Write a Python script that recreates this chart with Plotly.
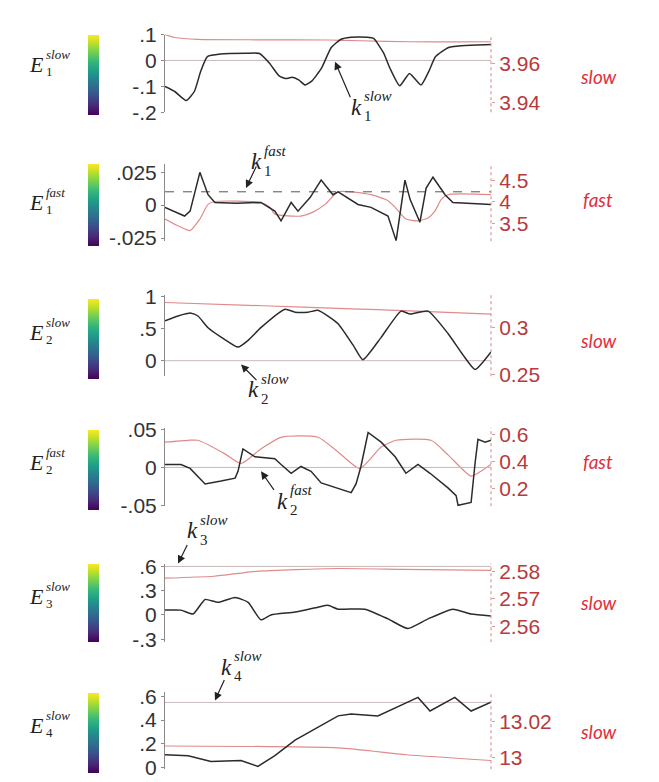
import plotly.graph_objects as go

W, H = 659, 782

# ---------------- data (time axis 0..100) ----------------
# Panel 1: E1 slow
p1_t = [0, 3, 6.5, 9, 11, 13, 17, 25, 29, 32, 35, 37, 39, 41, 43, 45, 48, 51, 54, 57, 62, 64, 67, 69, 72, 75, 78.5, 81, 83, 87, 92, 100]
p1_e = [-0.10, -0.12, -0.155, -0.12, -0.04, 0.015, 0.025, 0.028, 0.027, -0.01, -0.06, -0.07, -0.065, -0.075, -0.095, -0.08, -0.03, 0.05, 0.082, 0.09, 0.09, 0.085, 0.03, -0.03, -0.098, -0.05, -0.095, -0.04, 0.015, 0.05, 0.058, 0.062]
p1_rt = [0, 3, 10, 30, 50, 60, 75, 90, 100]
p1_r = [3.975, 3.9735, 3.9725, 3.9723, 3.9722, 3.9718, 3.9713, 3.9712, 3.9713]

# Panel 2: E1 fast
p2_t = [0, 6, 7.7, 10.7, 13.2, 15.3, 22, 29.4, 33.7, 35.6, 38.7, 40.8, 44.5, 47.9, 51.5, 53.1, 59.2, 63.2, 68.4, 70.9, 73.6, 75.2, 78.2, 80.1, 82.2, 85.9, 88.3, 100]
p2_e = [-0.0017, -0.0083, -0.0046, 0.0249, 0.0079, 0.002, 0.0015, 0.002, -0.0046, -0.012, 0.002, -0.0046, 0.0057, 0.019, 0.0079, 0.01, 0.0005, -0.0017, -0.0083, -0.027, 0.019, 0.0042, -0.013, 0.013, 0.0212, 0.0079, 0.002, 0.0005]
p2_rt = [0, 4, 7.7, 10.7, 13.2, 15.3, 29.4, 32.2, 33.7, 41.7, 45.4, 49.1, 53.1, 63.2, 68.4, 70.6, 73.9, 77.6, 80.7, 82.8, 84.7, 86.8, 100]
p2_r = [3.611, 3.456, 3.345, 3.611, 3.945, 4.011, 3.989, 3.878, 3.722, 3.678, 3.767, 3.945, 4.233, 4.167, 4.03, 3.878, 3.611, 3.567, 3.633, 3.789, 4.056, 4.167, 4.167]

# Panel 3: E2 slow
p3_t = [0, 4, 8, 10.1, 13.2, 17.8, 22.4, 25.5, 29.4, 36.8, 39.9, 43.9, 46.9, 50, 53.1, 57.7, 60.7, 66.3, 72.4, 75.2, 80.7, 86.8, 91.4, 95.1, 100]
p3_e = [0.621, 0.697, 0.742, 0.697, 0.515, 0.349, 0.212, 0.318, 0.515, 0.803, 0.757, 0.757, 0.788, 0.697, 0.576, 0.243, 0.015, 0.364, 0.773, 0.727, 0.773, 0.424, 0.091, -0.136, 0.137]
p3_rt = [0, 30, 55, 75, 100]
p3_r = [0.327, 0.3235, 0.3205, 0.318, 0.3146]

# Panel 4: E2 fast
p4_t = [0, 4.9, 7.7, 12.3, 17.2, 21.5, 22.4, 23.9, 27.6, 33.7, 35.6, 38.7, 41.7, 44.8, 47.9, 53.1, 57.1, 58.6, 60.1, 62.3, 66.3, 70.6, 73.9, 77.6, 81.3, 86.8, 89.3, 89.9, 93.9, 95.1, 96, 98.2, 100]
p4_e = [0.0039, 0.0039, -0.0013, -0.0218, -0.018, -0.0141, -0.0051, 0.0244, 0.0141, 0.0116, 0.0039, -0.0077, 0.0013, -0.0051, -0.0205, -0.0282, -0.0333, -0.0218, 0.0013, 0.0462, 0.0334, 0.0141, -0.0077, 0.0039, -0.0077, -0.027, -0.0372, -0.05, -0.0462, 0.0052, 0.0372, 0.0334, 0.0359]
p4_rt = [0, 7.1, 10.1, 18.4, 23.3, 29.4, 35.6, 46.9, 53.1, 59.8, 66.3, 70.9, 81.6, 86.8, 93.9, 96.9, 100]
p4_r = [0.543, 0.557, 0.557, 0.457, 0.386, 0.493, 0.579, 0.579, 0.471, 0.35, 0.507, 0.557, 0.557, 0.45, 0.293, 0.329, 0.379]

# Panel 5: E3 slow
p5_t = [0, 4.9, 8.6, 12.3, 16.3, 21.5, 25.5, 29.4, 32.5, 39.9, 46.9, 50, 53.1, 61.3, 68.4, 74.5, 80.7, 88.3, 93.9, 100]
p5_e = [0.06, 0.06, 0.012, 0.192, 0.156, 0.216, 0.156, -0.06, 0.0, 0.036, 0.096, 0.12, 0.072, 0.072, -0.048, -0.168, -0.048, 0.072, 0.012, -0.012]
p5_rt = [0, 15, 28, 53, 73, 100]
p5_r = [2.5775, 2.5782, 2.58, 2.581, 2.5807, 2.5803]

# Panel 6: E4 slow
p6_t = [0, 7.1, 14.1, 23.3, 28.5, 33.7, 39.9, 53.1, 57.1, 65.3, 77.6, 81.3, 88.9, 93.9, 100]
p6_e = [0.107, 0.099, 0.05, 0.058, 0.009, 0.099, 0.23, 0.436, 0.452, 0.436, 0.592, 0.477, 0.592, 0.477, 0.551]
p6_rt = [0, 53, 74, 100]
p6_r = [13.0065, 13.0054, 13.0016, 12.9984]

# reference levels k (left axis units)
k_vals = [0, 0.0101, 0, 0, 0.6, 0.55]
t_span = [0, 100]

# tick labels
left_ticks = [[0.1, 0, -0.1, -0.2], [0.025, 0, -0.025], [1, 0.5, 0], [0.05, 0, -0.05], [0.6, 0.3, 0, -0.3], [0.6, 0.4, 0.2, 0]]
left_text = [[".1", "0", "-.1", "-.2"], [".025", "0", "-.025"], ["1", ".5", "0"], [".05", "0", "-.05"], [".6", ".3", "0", "-.3"], [".6", ".4", ".2", "0"]]
right_ticks = [[3.96, 3.94], [4.5, 4, 3.5], [0.3, 0.25], [0.6, 0.4, 0.2], [2.58, 2.57, 2.56], [13.02, 13]]
right_text = [["3.96", "3.94"], ["4.5", "4", "3.5"], ["0.3", "0.25"], ["0.6", "0.4", "0.2"], ["2.58", "2.57", "2.56"], ["13.02", "13"]]
subs = ["1", "1", "2", "2", "3", "4"]
modes = ["slow", "fast", "slow", "fast", "slow", "slow"]

e_series = [(p1_t, p1_e), (p2_t, p2_e), (p3_t, p3_e), (p4_t, p4_e), (p5_t, p5_e), (p6_t, p6_e)]
r_series = [(p1_rt, p1_r), (p2_rt, p2_r), (p3_rt, p3_r), (p4_rt, p4_r), (p5_rt, p5_r), (p6_rt, p6_r)]

# ---------------- layout geometry (pixels) ----------------
X0, X1 = 157, 483
tops = [15, 148, 283, 420, 560, 692]
bots = [95, 228, 367, 501, 641, 772]
left_ranges = [[-0.2, 0.1], [-0.0275, 0.0315], [-0.242, 1.03], [-0.0513, 0.0526], [-0.336, 0.636], [-0.016, 0.641]]
right_ranges = [[3.935, 3.975], [3.1, 4.878], [0.2479, 0.3354], [0.0714, 0.65], [2.5544, 2.5828], [12.9935, 13.0368]]
cb_tops = [15, 148, 287, 422, 560, 693]
cb_bots = [95, 230, 367, 502, 638, 773]
e_label_y = [46, 188, 322, 456, 594, 727]
mode_label_y = [58, 185, 330, 455, 600, 733]
k_label_pos = [(350, 90), (250, 146), (247, 381), (276, 496), (186, 526), (220, 667)]
arrows = [((327, 43), (343, 80)), ((238, 173), (249, 150)), ((233, 355), (250, 372)),
          ((253, 465), (267, 485)), ((170, 560), (180, 540)), ((207, 701), (217, 679))]
smooth = [True, False, True, False, True, False]

BLACK = "#2b2b2b"
RED_LINE = "#e08a8a"
RED_TICK = "#b83a3a"
RED_TEXT = "#e0303c"
GRID_K = "#c9b9b9"
SANS = "Liberation Sans"
SERIF = "Liberation Serif"


def px(x):
    return x / W


def py(y):
    return 1 - y / H


fig = go.Figure()
layout = dict(width=W, height=H, autosize=False, margin=dict(l=0, r=0, t=0, b=0),
              paper_bgcolor="white", plot_bgcolor="rgba(0,0,0,0)", showlegend=False)
annotations = []
shapes = []

for i in range(6):
    xa = "x" if i == 0 else f"x{i + 1}"
    yr_idx = 2 * i + 1
    yl_idx = 2 * i + 2
    yr = "y" if yr_idx == 1 else f"y{yr_idx}"
    yl = f"y{yl_idx}"
    xkey = "xaxis" if i == 0 else f"xaxis{i + 1}"
    yrkey = "yaxis" if yr_idx == 1 else f"yaxis{yr_idx}"
    ylkey = f"yaxis{yl_idx}"
    dom = [py(bots[i]), py(tops[i])]

    layout[xkey] = dict(domain=[px(X0), px(X1)], range=[0, 100], visible=False, anchor=yr, fixedrange=True)
    layout[yrkey] = dict(domain=dom, range=right_ranges[i], side="right", anchor=xa,
                         tickvals=right_ticks[i], ticktext=right_text[i],
                         tickfont=dict(family=SANS, size=21, color=RED_TICK),
                         showline=False,
                         ticks="outside", ticklen=3, tickcolor="#d99a9a",
                         showgrid=False, zeroline=False)
    layout[ylkey] = dict(range=left_ranges[i], side="left", anchor=xa, overlaying=yr,
                         tickvals=left_ticks[i], ticktext=left_text[i],
                         tickfont=dict(family=SANS, size=21, color="#333333"),
                         showline=True, linecolor="#8a8a8a", linewidth=1,
                         ticks="outside", ticklen=3, tickcolor="#8a8a8a",
                         showgrid=False, zeroline=False)
    # dotted right axis line
    shapes.append(dict(type="line", xref=f"{xa} domain", yref=f"{yr} domain",
                       x0=1, x1=1, y0=0, y1=1, line=dict(color="#d99a9a", width=1.2, dash="dot")))

    # red (right axis) line
    rt, rv = r_series[i]
    fig.add_trace(go.Scatter(x=rt, y=rv, xaxis=xa, yaxis=yr, mode="lines",
                             line=dict(color=RED_LINE, width=1.2, shape="spline", smoothing=0.6),
                             hoverinfo="skip"))
    # reference level line
    fig.add_trace(go.Scatter(x=t_span, y=[k_vals[i], k_vals[i]], xaxis=xa, yaxis=yl, mode="lines",
                             line=dict(color="#555555" if i == 1 else GRID_K, width=1,
                                       dash="dash" if i == 1 else "solid"),
                             hoverinfo="skip"))
    # black (left axis) line
    et, ev = e_series[i]
    fig.add_trace(go.Scatter(x=et, y=ev, xaxis=xa, yaxis=yl, mode="lines",
                             line=dict(color=BLACK, width=1.5,
                                       shape="spline" if smooth[i] else "linear", smoothing=0.5),
                             hoverinfo="skip"))
    # colorbar carrier
    ca = "coloraxis" if i == 0 else f"coloraxis{i + 1}"
    fig.add_trace(go.Scatter(x=[50, 50], y=[left_ranges[i][0], left_ranges[i][0]], xaxis=xa, yaxis=yl,
                             mode="markers",
                             marker=dict(color=[0, 1], coloraxis=ca, size=1, opacity=0),
                             hoverinfo="skip"))
    layout[ca] = dict(colorscale="Viridis", cmin=0, cmax=1, showscale=True,
                      colorbar=dict(x=px(80), xanchor="left", y=py(cb_tops[i]), yanchor="top",
                                    len=cb_bots[i] - cb_tops[i], lenmode="pixels",
                                    thickness=11, thicknessmode="pixels",
                                    ticks="", showticklabels=False, outlinewidth=0,
                                    xpad=0, ypad=0))

    # E label (left): base letter + stacked scripts
    ey = e_label_y[i]
    annotations.append(dict(x=px(37), y=py(ey), xref="paper", yref="paper", showarrow=False,
                            text="<i>E</i>", font=dict(family=SERIF, size=22, color="#222"),
                            xanchor="right", yanchor="middle", borderpad=0))
    annotations.append(dict(x=px(37), y=py(ey - 2), xref="paper", yref="paper", showarrow=False,
                            text="<i>" + modes[i] + "</i><br>" + subs[i], align="left",
                            font=dict(family=SERIF, size=13, color="#222"),
                            xanchor="left", yanchor="middle", borderpad=0))

    # k label
    kx, ky = k_label_pos[i]
    annotations.append(dict(x=px(kx + 5), y=py(ky), xref="paper", yref="paper", showarrow=False,
                            text="<i>k</i>", font=dict(family=SERIF, size=23, color="#222"),
                            xanchor="right", yanchor="middle", borderpad=0))
    annotations.append(dict(x=px(kx + 5), y=py(ky - 1), xref="paper", yref="paper", showarrow=False,
                            text="<i>" + modes[i] + "</i><br>" + subs[i], align="left",
                            font=dict(family=SERIF, size=15, color="#222"),
                            xanchor="left", yanchor="middle", borderpad=0))

    # arrow
    (tx, ty), (sx, sy) = arrows[i]
    annotations.append(dict(x=px(tx), y=py(ty), xref="paper", yref="paper", text="",
                            showarrow=True, ax=sx - tx, ay=sy - ty, arrowhead=2, arrowsize=1.3,
                            arrowwidth=1.2, arrowcolor="#222"))

    # slow / fast label (right)
    annotations.append(dict(x=px(590), y=py(mode_label_y[i]), xref="paper", yref="paper", showarrow=False,
                            text="<i>" + modes[i] + "</i>", font=dict(family="Lato", size=19, color=RED_TEXT),
                            xanchor="center", yanchor="middle"))

layout["annotations"] = annotations
layout["shapes"] = shapes
fig.update_layout(**layout)
fig.write_html("out.html")
